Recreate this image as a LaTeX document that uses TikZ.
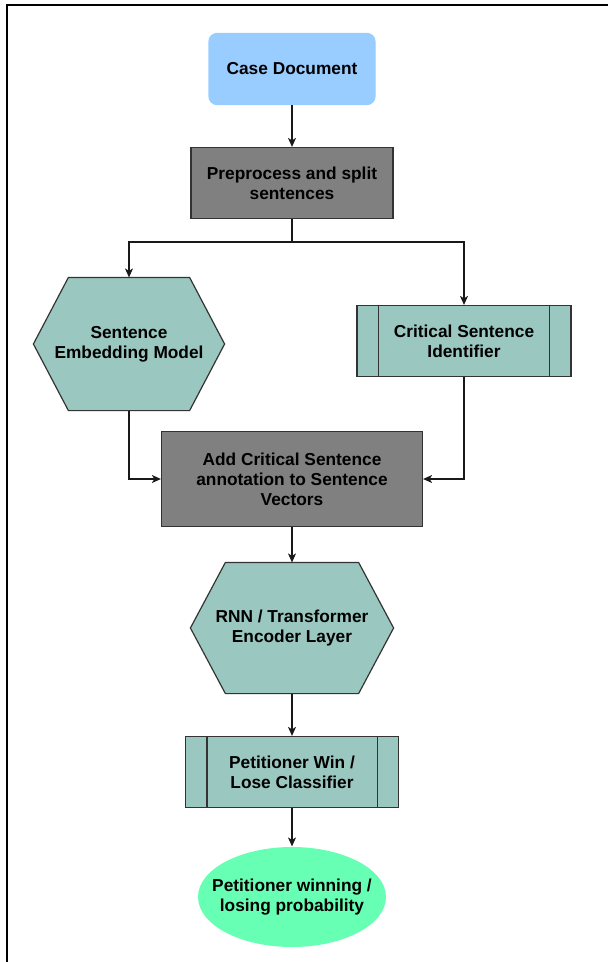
\documentclass[tikz,border=0pt]{standalone}
\usepackage{fontspec}
\setmainfont{Liberation Sans}
\usepackage{xcolor}
\usepackage{tikz}
\usetikzlibrary{shapes.geometric, arrows.meta, backgrounds}
\definecolor{caseblue}{HTML}{99CCFF}
\definecolor{stepgray}{HTML}{808080}
\definecolor{modelteal}{HTML}{9AC7BF}
\definecolor{outmint}{HTML}{66FFB3}
\definecolor{edgegray}{HTML}{333333}
\tikzstyle{box} = [rectangle, draw=edgegray, line width=1.2pt, align=center, inner sep=0pt, font=\bfseries\fontsize{17.3}{20}\selectfont]
\tikzstyle{startbox} = [box, draw=caseblue, fill=caseblue, rounded corners=8pt, minimum width=166pt, minimum height=71pt]
\tikzstyle{graybox} = [box, fill=stepgray]
\tikzstyle{subbox} = [box, fill=modelteal, minimum height=71pt]
\tikzstyle{hexbox} = [box, draw=none]
\tikzstyle{endbox} = [box, draw=none, minimum width=188pt, minimum height=100pt]
\tikzstyle{arrow} = [-{Stealth[length=9pt, width=8pt, inset=2.5pt]}, line width=1.2pt, draw=black!90]

\begin{document}
\begin{tikzpicture}[x=1pt, y=-1pt]
    \useasboundingbox (0,0) rectangle (608,962);
    \draw[line width=1.6pt] (608,5) -- (7,5) -- (7,962);
    \node[startbox] (case) at (292,69) {Case Document};
    \node[graybox, minimum width=202pt, minimum height=71pt] (prep) at (292,183) {Preprocess and split\\sentences};
    \node[hexbox, minimum width=190pt, minimum height=132pt] (sem) at (129,344) {Sentence\\Embedding Model};
    \node[subbox, minimum width=214pt] (csi) at (464,341) {Critical Sentence\\Identifier};
    \node[graybox, minimum width=261pt, minimum height=95pt] (add) at (292,479) {Add Critical Sentence\\annotation to Sentence\\Vectors};
    \node[hexbox, minimum width=202pt, minimum height=130pt] (rnn) at (292,628) {RNN / Transformer\\Encoder Layer};
    \node[subbox, minimum width=213pt] (clf) at (292,772) {Petitioner Win /\\Lose Classifier};
    \node[endbox] (res) at (292,897) {Petitioner winning /\\losing probability};
    % outlines behind the text
    \begin{scope}[on background layer]
    \foreach \n in {sem,rnn}
        \filldraw[fill=modelteal, draw=edgegray, line width=1.2pt] (\n.west) -- ([xshift=35pt]\n.north west) -- ([xshift=-35pt]\n.north east) -- (\n.east) -- ([xshift=-35pt]\n.south east) -- ([xshift=35pt]\n.south west) -- cycle;
    \fill[outmint] (res.center) ellipse [x radius=94pt, y radius=50pt];
    \end{scope}
    \foreach \n in {csi,clf} {
        \draw[line width=1.2pt, draw=edgegray] ([xshift=22pt]\n.north west) -- ([xshift=22pt]\n.south west);
        \draw[line width=1.2pt, draw=edgegray] ([xshift=-22pt]\n.north east) -- ([xshift=-22pt]\n.south east);
    }
    \coordinate (split) at (292,242);
    \draw[arrow] (case) -- (prep);
    \draw[arrow] (prep) -- (split) -| (sem);
    \draw[arrow] (split) -| (csi);
    \draw[arrow] (sem) |- (add);
    \draw[arrow] (csi) |- (add);
    \draw[arrow] (add) -- (rnn);
    \draw[arrow] (rnn) -- (clf);
    \draw[arrow] (clf) -- (res);
\end{tikzpicture}
\end{document}
